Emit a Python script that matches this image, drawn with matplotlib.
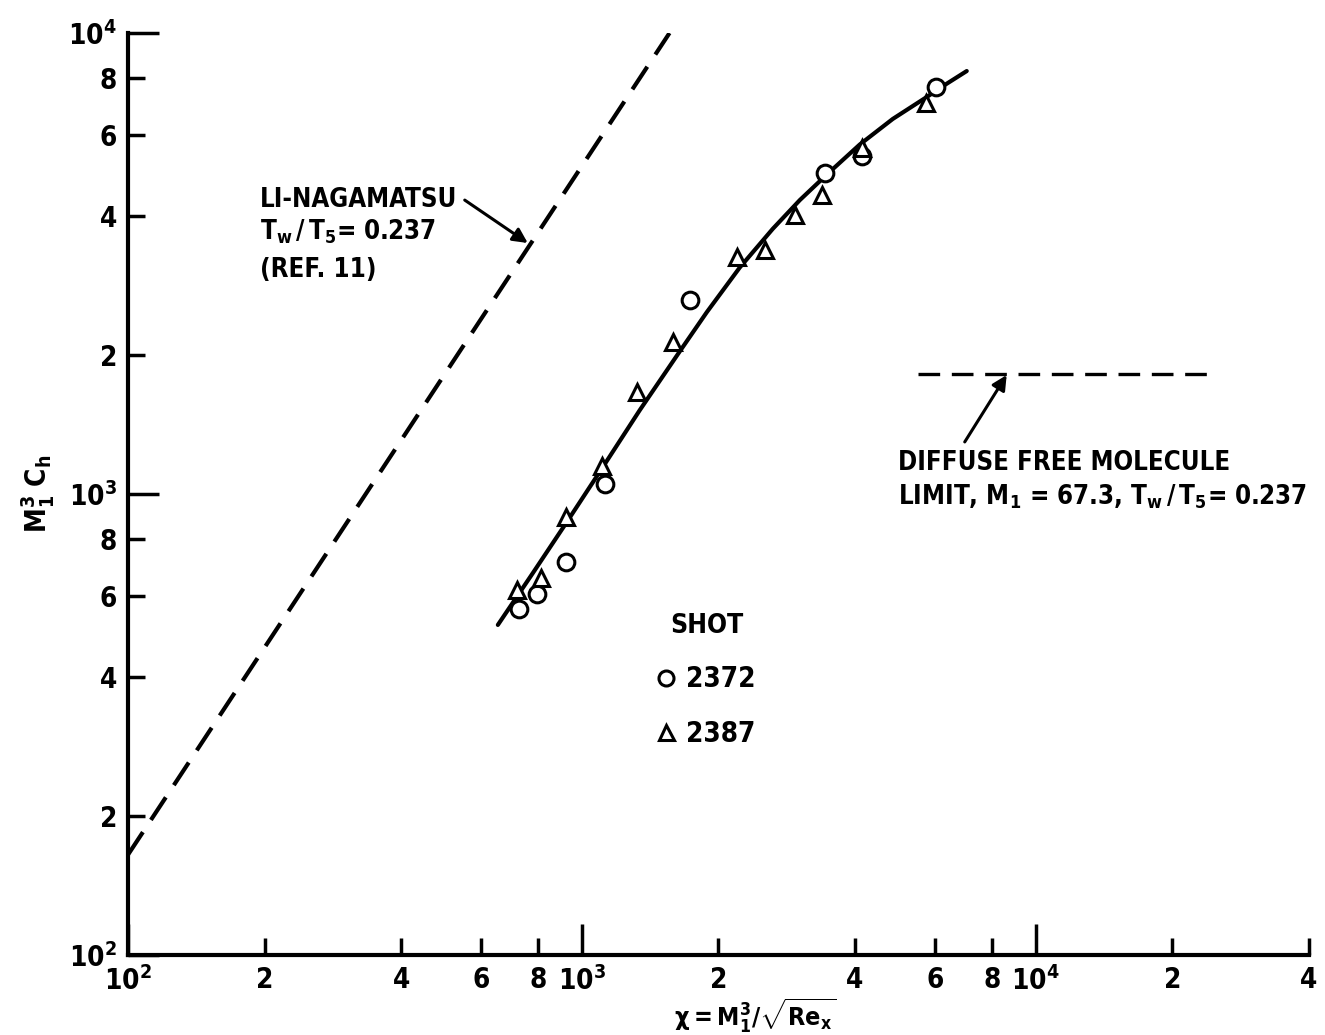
import numpy as np
import matplotlib
matplotlib.use("Agg")
import matplotlib.pyplot as plt

plt.rcParams['font.family'] = ['DejaVu Sans']
plt.rcParams['font.stretch'] = 'condensed'
plt.rcParams['font.weight'] = 'bold'
plt.rcParams['mathtext.fontset'] = 'custom'
plt.rcParams['mathtext.rm'] = 'DejaVu Sans:bold'
plt.rcParams['mathtext.it'] = 'DejaVu Sans:bold'
plt.rcParams['mathtext.bf'] = 'DejaVu Sans:bold'
plt.rcParams['mathtext.default'] = 'rm'

# shot 2372 (circles)
shot2372_x = [726, 796, 922, 1124, 1729, 3429, 4137, 6021]
shot2372_y = [563, 607, 712, 1051, 2635, 4970, 5410, 7639]
# shot 2387 (triangles)
shot2387_x = [719, 812, 922, 1107, 1322, 1586, 2195, 2530, 2946, 3378, 4137, 5724]
shot2387_y = [619, 657, 891, 1150, 1664, 2136, 3267, 3383, 4029, 4452, 5629, 7052]

# faired curve through the data
curve_x = [653, 780, 927, 1113, 1342, 1644, 1885, 2228, 2634, 3021, 3464, 4096, 4842, 5753, 6368, 7047]
curve_y = [520, 674, 870, 1145, 1521, 2040, 2480, 3100, 3760, 4340, 4930, 5730, 6510, 7264, 7764, 8270]

# Li-Nagamatsu theory
li_x = [100, 1560]
li_y = [165, 10000]

# diffuse free molecule limit
fm_x = [5500, 24400]
fm_y = [1820, 1820]

fig = plt.figure(figsize=(13.25, 10.35), dpi=100)
ax = fig.add_axes([0.0966, 0.0773, 0.8913, 0.8908])
ax.set_xscale('log')
ax.set_yscale('log')
ax.set_xlim(100, 40000)
ax.set_ylim(100, 10000)

ax.plot(li_x, li_y, color='k', lw=3, dashes=(6.5, 3.5), solid_capstyle='butt')
ax.plot(fm_x, fm_y, color='k', lw=2.4, dashes=(6.5, 3.5))
ax.plot(curve_x, curve_y, color='k', lw=3, solid_capstyle='round', solid_joinstyle='round')

ax.plot(shot2372_x, shot2372_y, ls='none', marker='o', ms=12, mfc='white', mec='k', mew=2.2, label='2372')
ax.plot(shot2387_x, shot2387_y, ls='none', marker='^', ms=12, mfc='white', mec='k', mew=2.2, label='2387')

for s in ['top', 'right']:
    ax.spines[s].set_visible(False)
for s in ['left', 'bottom']:
    ax.spines[s].set_linewidth(3)

tsize = 20
ax.set_xticks([100, 1000, 10000], [r'$10^2$', r'$10^3$', r'$10^4$'])
ax.set_xticks([200, 400, 600, 800, 2000, 4000, 6000, 8000, 20000, 40000],
              ['2', '4', '6', '8', '2', '4', '6', '8', '2', '4'], minor=True)
ax.set_yticks([100, 1000, 10000], [r'$10^2$', r'$10^3$', r'$10^4$'])
ax.set_yticks([200, 400, 600, 800, 2000, 4000, 6000, 8000],
              ['2', '4', '6', '8', '2', '4', '6', '8'], minor=True)
ax.tick_params(which='both', direction='in', width=2.5, labelsize=tsize, pad=8)
ax.tick_params(which='major', length=22)
ax.tick_params(which='minor', length=12)

ax.set_xlabel(r'$\chi = M_1^3/\sqrt{Re_x}$', fontsize=18)
ax.xaxis.set_label_coords(0.531, -0.045)
ax.set_ylabel(r'$M_1^3\ C_h$', fontsize=20, labelpad=8)

tk = dict(fontsize=18.5, transform=ax.transAxes, va='center', ha='left')
ax.text(0.1118, 0.8189, 'LI-NAGAMATSU', **tk)
ax.text(0.1118, 0.7842, r'$T_w\,/\,T_5$= 0.237', **tk)
ax.text(0.1118, 0.7430, '(REF. 11)', **tk)
ax.text(0.652, 0.5336, 'DIFFUSE FREE MOLECULE', **tk)
ax.text(0.652, 0.4967, r'LIMIT, $M_1$ = 67.3, $T_w\,/\,T_5$= 0.237', **tk)

arr = dict(arrowstyle='-|>', color='k', lw=2.2, mutation_scale=22, shrinkA=0, shrinkB=0)
ax.annotate('', xy=(760, 3503), xytext=(552, 4341), arrowprops=arr)
ax.annotate('', xy=(8630, 1812), xytext=(6976, 1297), arrowprops=arr)

leg = ax.legend(title='SHOT', loc='center', bbox_to_anchor=(0.49, 0.298), frameon=False,
                fontsize=20, title_fontsize=19, handlelength=0.6, handletextpad=0.4,
                labelspacing=0.95, markerscale=0.9)

fig.savefig('out.png', dpi=100)
